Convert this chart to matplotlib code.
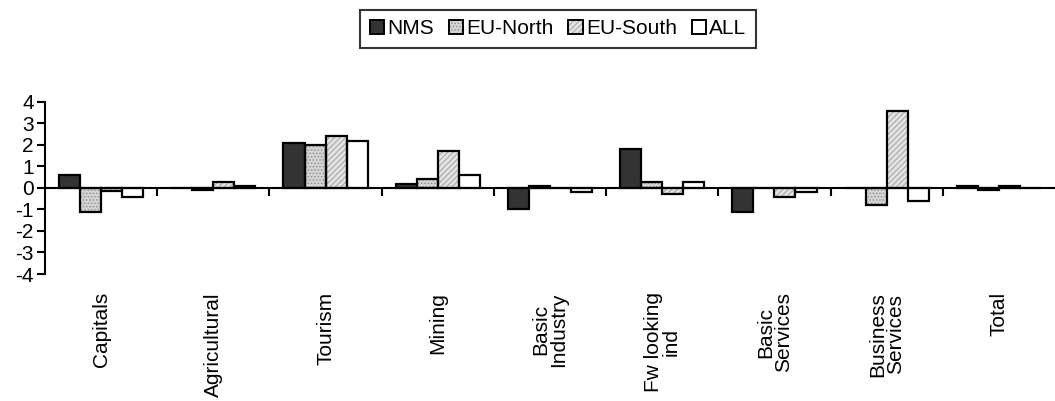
import numpy as np
import matplotlib.pyplot as plt
from matplotlib.patches import Patch

plt.rcParams['font.family'] = ['Liberation Sans', 'DejaVu Sans']
plt.rcParams['hatch.linewidth'] = 0.6
plt.rcParams['axes.unicode_minus'] = False

categories = ['Capitals', 'Agricultural', 'Tourism', 'Mining', 'Basic\nIndustry',
              'Fw looking\nind', 'Basic\nServices', 'Business\nServices', 'Total']
series = ['NMS', 'EU-North', 'EU-South', 'ALL']

nms = [0.6, 0.0, 2.1, 0.2, -1.0, 1.8, -1.1, 0.0, 0.1]
eu_north = [-1.1, -0.1, 2.0, 0.4, 0.1, 0.3, 0.0, -0.8, -0.1]
eu_south = [-0.15, 0.3, 2.4, 1.7, 0.0, -0.3, -0.4, 3.6, 0.1]
all_ = [-0.4, 0.1, 2.2, 0.6, -0.2, 0.3, -0.2, -0.6, 0.0]

values = [nms, eu_north, eu_south, all_]
# (face, hatch, hatch colour)
styles = [('#333333', None, None),
          ('#d4d4d4', '.....', '#8a8a8a'),
          ('#e2e2e2', '//////', '#9a9a9a'),
          ('white', None, None)]

fs = 15

fig = plt.figure(figsize=(10.55, 4.01), dpi=100)
ax = fig.add_axes([45 / 1055, 1 - 274 / 401, 1 - 45 / 1055, 172 / 401])

x = np.arange(len(categories))
w = 0.1875
handles = []
for j, (vals, (fc, hatch, hc)) in enumerate(zip(values, styles)):
    pos = x + (j - 1.5) * w
    if hatch:
        ax.bar(pos, vals, w, color=fc, hatch=hatch, edgecolor=hc, linewidth=0, zorder=2)
    else:
        ax.bar(pos, vals, w, color=fc, linewidth=0, zorder=2)
    ax.bar(pos, vals, w, fill=False, edgecolor='black', linewidth=1.6, zorder=3)
    fill = Patch(facecolor=fc, hatch=hatch, edgecolor=hc if hatch else fc, linewidth=0)
    edge = Patch(fill=False, edgecolor='black', linewidth=1.4)
    handles.append((fill, edge))

ax.set_xlim(-0.5, len(categories) - 0.5)
ax.set_ylim(-4, 4)
ax.set_yticks(range(-4, 5))
ax.tick_params(axis='y', direction='out', length=6, width=1.5, labelsize=fs, pad=2)

for s in ['top', 'right']:
    ax.spines[s].set_visible(False)
ax.spines['left'].set_linewidth(1.5)
ax.spines['bottom'].set_position(('data', 0))
ax.spines['bottom'].set_linewidth(1.5)
ax.set_xticks(x[:-1] + 0.5)
ax.set_xticklabels([])
ax.tick_params(axis='x', direction='out', length=6, width=1.5)

for i, cat in enumerate(categories):
    ax.annotate(cat, xy=(i, 0), xycoords=('data', 'axes fraction'),
                xytext=(0, -13), textcoords='offset points',
                rotation=90, ha='center', va='top', multialignment='center',
                fontsize=fs, linespacing=0.9)

leg = fig.legend(handles, series, loc='upper center', bbox_to_anchor=(0.529, 0.975),
                 ncol=4, fontsize=fs, frameon=True, fancybox=False,
                 handlelength=0.7, handleheight=0.7, handletextpad=0.15,
                 columnspacing=0.7, borderpad=0.45, borderaxespad=0)
leg.get_frame().set_edgecolor('black')
leg.get_frame().set_linewidth(1.5)

fig.savefig('out.png', dpi=100)
